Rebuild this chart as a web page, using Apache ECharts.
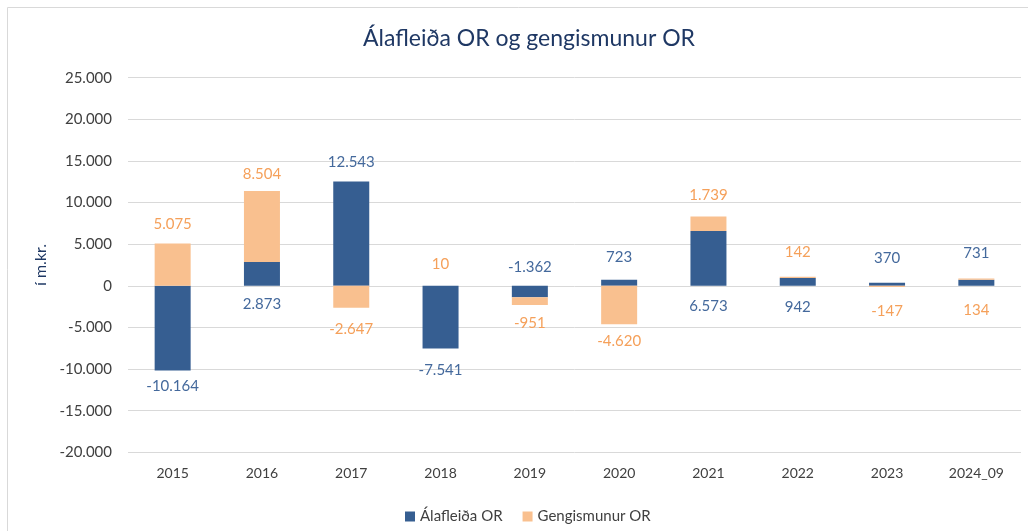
<!DOCTYPE html>
<html>
<head>
<meta charset="utf-8">
<title>Álafleiða OR og gengismunur OR</title>
<script src="https://cdn.jsdelivr.net/npm/echarts@6/dist/echarts.min.js"></script>
<style>
    html, body { margin: 0; padding: 0; background: #fff; }
    #main { width: 1028px; height: 531px; }
</style>
</head>
<body>
<div id="main"></div>
<script>
    // gögn lesin af myndinni
    var years = ['2015', '2016', '2017', '2018', '2019', '2020', '2021', '2022', '2023', '2024_09'];
    var alafleida = [-10164, 2873, 12543, -7541, -1362, 723, 6573, 942, 370, 731];
    var gengismunur = [5075, 8504, -2647, 10, -951, -4620, 1739, 142, -147, 134];
    var yTicks = [-20000, 25000, 5000]; // min, max, bil

    // staðsetning gildismerkja (eins og í Excel skjalinu)
    var blueLabelPos = [['bottom', 8], ['bottom', 11], ['top', 12], ['bottom', 14], ['top', 11],
                        ['top', 15], ['bottom', 13], ['bottom', 14], ['top', 17], ['top', 19]];
    var orangeLabelPos = [['top', 12], ['top', 9], ['bottom', 14], ['top', 14], ['bottom', 11],
                          ['bottom', 9], ['top', 14], ['top', 17], ['bottom', 17], ['bottom', 23]];

    function fmt(v) {
        var s = Math.abs(Math.round(v)).toString().replace(/\B(?=(\d{3})+(?!\d))/g, '.');
        return (v < 0 ? '-' : '') + s;
    }

    function withLabels(values, pos) {
        return values.map(function (v, i) {
            return { value: v, label: { position: pos[i][0], distance: pos[i][1] } };
        });
    }

    var chart = echarts.init(document.getElementById('main'));
    chart.setOption({
        animation: false,
        textStyle: { fontFamily: 'Lato, "Noto Sans", sans-serif' },
        graphic: [{
            type: 'rect',
            shape: { x: 7.5, y: 7.5, width: 1040, height: 540 },
            style: { fill: 'none', stroke: '#D9D9D9', lineWidth: 1 },
            silent: true
        }],
        title: {
            text: 'Álafleiða OR og gengismunur OR',
            left: 524,
            top: 22,
            textAlign: 'center',
            textStyle: { color: '#1F3864', fontSize: 23, fontWeight: 'normal', fontFamily: 'Lato, sans-serif' }
        },
        legend: {
            left: 400,
            top: 504,
            itemWidth: 10,
            itemHeight: 10,
            itemGap: 20,
            icon: 'rect',
            textStyle: { color: '#404040', fontSize: 15 },
            data: ['Álafleiða OR', 'Gengismunur OR']
        },
        grid: {
            left: 128,
            right: 7,
            top: 77.7,
            bottom: 78.7,
            containLabel: false
        },
        xAxis: {
            type: 'category',
            data: years,
            axisLine: { show: false, onZero: false },
            axisTick: { show: false },
            axisLabel: { color: '#404040', fontSize: 14, margin: 14 }
        },
        yAxis: {
            type: 'value',
            min: yTicks[0],
            max: yTicks[1],
            interval: yTicks[2],
            name: 'í m.kr.',
            nameLocation: 'middle',
            nameGap: 76,
            nameRotate: 90,
            nameTextStyle: { color: '#1F3864', fontSize: 16 },
            axisLine: { show: false },
            axisTick: { show: false },
            splitLine: { lineStyle: { color: '#D9D9D9', width: 1 } },
            axisLabel: { color: '#404040', fontSize: 15, margin: 16, formatter: fmt }
        },
        series: [{
            name: 'Álafleiða OR',
            type: 'bar',
            stack: 'total',
            barWidth: 36,
            itemStyle: { color: '#365E91' },
            label: {
                show: true,
                color: '#44699C',
                fontSize: 15,
                formatter: function (p) { return fmt(p.value); }
            },
            data: withLabels(alafleida, blueLabelPos)
        }, {
            name: 'Gengismunur OR',
            type: 'bar',
            stack: 'total',
            barWidth: 36,
            itemStyle: { color: '#F9C08F' },
            label: {
                show: true,
                color: '#F5A05A',
                fontSize: 15,
                formatter: function (p) { return fmt(p.value); }
            },
            data: withLabels(gengismunur, orangeLabelPos)
        }]
    });

    window.addEventListener('resize', function () {
        chart.resize();
    });
</script>
</body>
</html>
